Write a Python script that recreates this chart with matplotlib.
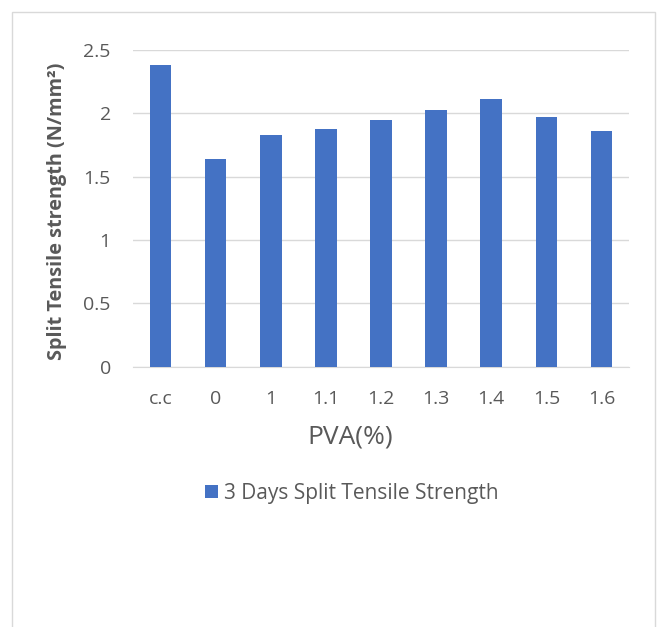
import matplotlib
matplotlib.use("Agg")
import matplotlib.pyplot as plt
from matplotlib.patches import Rectangle

categories = ["c.c", "0", "1", "1.1", "1.2", "1.3", "1.4", "1.5", "1.6"]
values = [2.38, 1.64, 1.83, 1.88, 1.95, 2.03, 2.11, 1.97, 1.86]
yticks = [0, 0.5, 1, 1.5, 2, 2.5]
ytick_labels = ["0", "0.5", "1", "1.5", "2", "2.5"]
series_name = "3 Days Split Tensile Strength"

plt.rcParams['font.family'] = ['Open Sans', 'DejaVu Sans']
txt = "#595959"

fig = plt.figure(figsize=(6.65, 6.27), dpi=100)
fig.patches.append(Rectangle((12/665, -0.01), (655-12)/665, 1 - 12/627 + 0.01,
                             transform=fig.transFigure, fill=False,
                             edgecolor="#d9d9d9", linewidth=1))
ax = fig.add_axes([133/665, 1-366.7/627, (629-133)/665, (366.7-50)/627])
x = range(len(categories))
ax.bar(x, values, width=0.39, color="#4472c4", label=series_name, zorder=3)
ax.set_xlim(-0.5, len(categories)-0.5)
ax.set_ylim(0, 2.5)
ax.set_yticks(yticks)
ax.set_yticklabels(ytick_labels)
ax.set_xticks(list(x))
ax.set_xticklabels(categories)
ax.grid(axis='y', color="#d9d9d9", linewidth=1, zorder=0)
for s in ["top", "right", "left"]:
    ax.spines[s].set_visible(False)
ax.spines["bottom"].set_color("#d9d9d9")
ax.tick_params(axis='both', length=0, labelsize=14, colors=txt)
ax.tick_params(axis='x', pad=17)
ax.tick_params(axis='y', pad=16)
ax.set_xlabel("PVA(%)", fontsize=19, color=txt)
ax.xaxis.set_label_coords((350-133)/496, -(437-366.7)/316.7)
ax.xaxis.label.set_va('center')
ax.set_ylabel("Split Tensile strength (N/mm²)", fontsize=14.3, color=txt,
              fontweight='bold')
ax.yaxis.set_label_coords(-(133-57)/496, 0.49)
ax.yaxis.label.set_va('center')
fig.legend(loc='center', bbox_to_anchor=(352/665, 1-493/627), frameon=False,
           fontsize=15, labelcolor=txt, handlelength=0.6, handleheight=0.6,
           handletextpad=0.3)
fig.savefig("out.png", dpi=100)
